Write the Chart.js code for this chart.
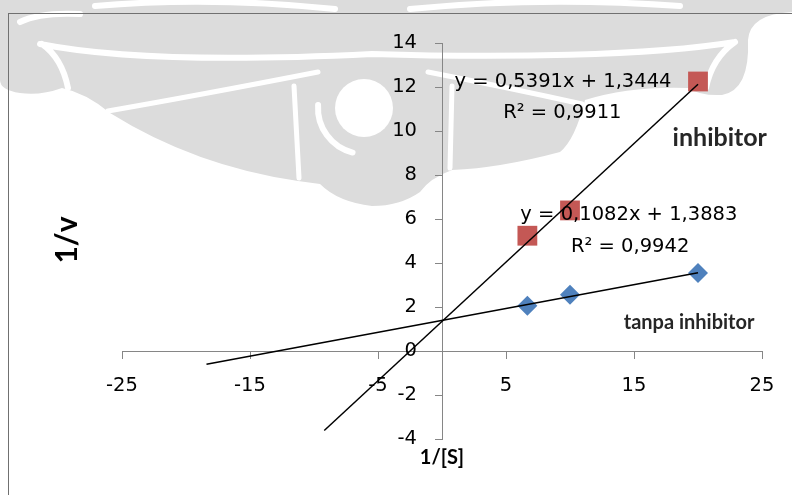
<!DOCTYPE html>
<html>
<head>
<meta charset="utf-8">
<script src="https://cdn.jsdelivr.net/npm/chart.js@4"></script>
<style>
  html, body { margin: 0; padding: 0; background: #fff; }
  #wrap { width: 792px; height: 495px; position: relative; }
</style>
</head>
<body>
<div id="wrap"><canvas id="c" width="792" height="495"></canvas></div>
<script>
// Lineweaver-Burk data: 1/[S] against 1/v
const substrateInv = [6.67, 10, 20];
const rateInvControl = [2.06, 2.56, 3.55];     // tanpa inhibitor
const rateInvInhibited = [5.24, 6.39, 12.25];  // inhibitor

// linear fits (index 0: tanpa inhibitor, 1: inhibitor)
const fitSlopes = [0.1082, 0.5391];
const fitIntercepts = [1.3883, 1.3444];
const fitR2 = [0.9942, 0.9911];
const fitFrom = [-18.4, -9.2];
const fitTo = [20, 20];

const xTickValues = [-25, -15, -5, 5, 15, 25];
const yTickValues = [-4, -2, 0, 2, 4, 6, 8, 10, 12, 14];

const TEXT_FONT = '"DejaVu Sans", Verdana, sans-serif';
const BOLD_FONT = 'Lato, "Liberation Sans", sans-serif';
const TEXT_SIZE = 19.5;
const AXIS_GRAY = '#868686';

const fmt = v => v.toFixed(4).replace('.', ',');
const fitPoints = i => [fitFrom[i], fitTo[i]].map(x => ({ x, y: fitSlopes[i] * x + fitIntercepts[i] }));

// where the annotation texts sit, in data units
const regular = TEXT_SIZE + 'px ' + TEXT_FONT;
const annotations = [
  { text: `y = ${fmt(fitSlopes[1])}x + ${fmt(fitIntercepts[1])}`, x: 9.45, y: 12.24, font: regular },
  { text: `R² = ${fmt(fitR2[1])}`, x: 9.4, y: 10.83, font: regular },
  { text: `y = ${fmt(fitSlopes[0])}x + ${fmt(fitIntercepts[0])}`, x: 14.6, y: 6.2, font: regular },
  { text: `R² = ${fmt(fitR2[0])}`, x: 14.7, y: 4.74, font: regular },
  { text: 'inhibitor', x: 21.7, y: 9.7, font: 'bold 25px ' + BOLD_FONT, color: '#262626' },
  { text: 'tanpa inhibitor', x: 19.3, y: 1.29, font: 'bold 20px ' + BOLD_FONT, color: '#262626' }
];

// faint emblem behind the chart
function drawWatermark(ctx) {
  ctx.save();
  ctx.fillStyle = '#dcdcdc';

  // both wings as one outline
  ctx.beginPath();
  ctx.moveTo(0, 0);
  ctx.lineTo(792, 0);
  ctx.lineTo(792, 12);
  ctx.quadraticCurveTo(750, 14, 748, 40);
  ctx.quadraticCurveTo(750, 90, 722, 95);
  ctx.quadraticCurveTo(700, 96, 688, 88);
  ctx.quadraticCurveTo(630, 86, 585, 100);
  ctx.quadraticCurveTo(575, 140, 560, 152);
  ctx.quadraticCurveTo(500, 168, 452, 170);
  ctx.quadraticCurveTo(430, 178, 420, 192);
  ctx.quadraticCurveTo(400, 206, 372, 206);
  ctx.quadraticCurveTo(338, 202, 320, 184);
  ctx.lineTo(298, 181);
  ctx.quadraticCurveTo(195, 166, 110, 113);
  ctx.quadraticCurveTo(86, 93, 62, 88);
  ctx.quadraticCurveTo(40, 96, 20, 93);
  ctx.quadraticCurveTo(0, 90, 0, 80);
  ctx.closePath();
  ctx.fill();

  ctx.strokeStyle = '#fff';
  ctx.lineCap = 'round';
  ctx.lineJoin = 'round';
  ctx.lineWidth = 6;
  ctx.beginPath();
  ctx.moveTo(40, 44); ctx.bezierCurveTo(120, 60, 250, 60, 372, 54);   // stripe under the top band
  ctx.bezierCurveTo(500, 58, 650, 56, 735, 42);
  ctx.moveTo(42, 44); ctx.quadraticCurveTo(62, 58, 68, 88);           // inside of the curls
  ctx.moveTo(735, 42); ctx.quadraticCurveTo(712, 58, 706, 88);
  ctx.moveTo(95, 6); ctx.quadraticCurveTo(210, -4, 335, 9);           // top swirls
  ctx.moveTo(410, 9); ctx.quadraticCurveTo(540, -4, 680, 6);
  ctx.moveTo(20, 22); ctx.quadraticCurveTo(40, 12, 80, 14);
  ctx.stroke();
  ctx.lineWidth = 5;
  ctx.beginPath();
  ctx.moveTo(108, 111); ctx.quadraticCurveTo(200, 95, 318, 72);       // leaf edges
  ctx.moveTo(294, 86); ctx.lineTo(299, 178);
  ctx.moveTo(428, 72); ctx.quadraticCurveTo(510, 88, 582, 104);
  ctx.moveTo(452, 86); ctx.lineTo(450, 168);
  ctx.stroke();
  ctx.lineWidth = 6;
  ctx.beginPath();
  ctx.arc(364, 108, 46, 0.58 * Math.PI, 1.02 * Math.PI);              // crescent round the ring
  ctx.stroke();

  ctx.fillStyle = '#fff';
  ctx.beginPath();
  ctx.arc(364, 108, 29, 0, Math.PI * 2);
  ctx.fill();
  ctx.restore();
}

const decorations = {
  id: 'decorations',
  beforeDraw(chart) {
    const ctx = chart.ctx;
    drawWatermark(ctx);
    ctx.save();
    ctx.strokeStyle = '#707070';
    ctx.lineWidth = 1;
    ctx.strokeRect(8.5, 13.5, 900, 600);
    ctx.restore();
  },
  afterDatasetsDraw(chart) {
    const { ctx, scales: { x, y }, chartArea } = chart;
    ctx.save();
    // value labels of the vertical axis, set off to the left of its tick marks
    ctx.fillStyle = '#000';
    ctx.font = regular;
    ctx.textAlign = 'right';
    ctx.textBaseline = 'middle';
    const axisX = x.getPixelForValue(0);
    y.ticks.forEach(t => ctx.fillText(String(t.value), axisX - 25, y.getPixelForValue(t.value)));

    ctx.textAlign = 'center';
    annotations.forEach(a => {
      ctx.font = a.font;
      ctx.fillStyle = a.color || '#000';
      ctx.fillText(a.text, x.getPixelForValue(a.x), y.getPixelForValue(a.y));
    });
    // axis titles
    ctx.fillStyle = '#000';
    ctx.font = 'bold 20px ' + BOLD_FONT;
    ctx.fillText('1/[S]', (chartArea.left + chartArea.right) / 2, chartArea.bottom + 19);
    ctx.translate(67, 240);
    ctx.rotate(-Math.PI / 2);
    ctx.font = 'bold 30px ' + BOLD_FONT;
    ctx.fillText('1/v', 0, 0);
    ctx.restore();
  }
};

new Chart(document.getElementById('c'), {
  type: 'scatter',
  data: {
    datasets: [
      { label: 'fit tanpa inhibitor', data: fitPoints(0), showLine: true, borderColor: '#000', borderWidth: 1.5, pointRadius: 0, order: 0 },
      { label: 'fit inhibitor', data: fitPoints(1), showLine: true, borderColor: '#000', borderWidth: 1.5, pointRadius: 0, order: 0 },
      { label: 'tanpa inhibitor', data: substrateInv.map((x, i) => ({ x, y: rateInvControl[i] })),
        pointStyle: 'rectRot', pointRadius: 10, backgroundColor: '#4F81BD', borderColor: '#4F81BD', borderWidth: 0, order: 1 },
      { label: 'inhibitor', data: substrateInv.map((x, i) => ({ x, y: rateInvInhibited[i] })),
        pointStyle: 'rect', pointRadius: 14, backgroundColor: '#C45855', borderColor: '#C45855', borderWidth: 0, order: 1 }
    ]
  },
  options: {
    responsive: false,
    animation: false,
    events: [],
    layout: { padding: { left: 122, right: 30, top: 43, bottom: 56 } },
    plugins: { legend: { display: false }, tooltip: { enabled: false } },
    scales: {
      x: {
        type: 'linear', min: -25, max: 25, position: { y: 0 },
        afterBuildTicks: s => { s.ticks = xTickValues.map(v => ({ value: v })); },
        grid: { drawOnChartArea: false, drawTicks: true, tickLength: 7, color: AXIS_GRAY },
        border: { color: AXIS_GRAY, width: 1 },
        ticks: { color: '#000', font: { family: TEXT_FONT, size: TEXT_SIZE }, padding: 16, maxRotation: 0, autoSkip: false, callback: v => String(v) }
      },
      y: {
        type: 'linear', min: -4, max: 14, position: { x: 0 },
        afterBuildTicks: s => { s.ticks = yTickValues.map(v => ({ value: v })); },
        grid: { drawOnChartArea: false, drawTicks: true, tickLength: 7, color: AXIS_GRAY },
        border: { color: AXIS_GRAY, width: 1 },
        ticks: { display: false }
      }
    }
  },
  plugins: [decorations]
});
</script>
</body>
</html>
